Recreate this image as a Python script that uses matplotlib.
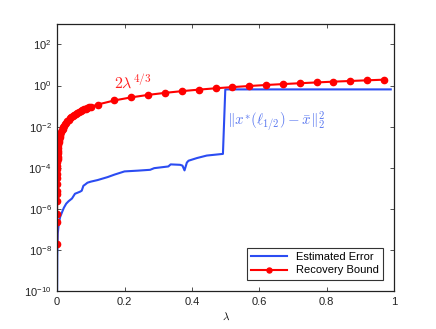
import math
import matplotlib
matplotlib.use('Agg')
import matplotlib.pyplot as plt
from matplotlib.ticker import FixedLocator, FuncFormatter, NullLocator

plt.rcParams['font.family'] = ['Liberation Sans', 'DejaVu Sans']
plt.rcParams['font.size'] = 8

# estimated error ||x*(l_1/2) - x_bar||^2
err_lam = [0, 0.0005, 0.002, 0.005, 0.009, 0.015, 0.02, 0.027, 0.034, 0.044,
           0.053, 0.06, 0.068, 0.073, 0.078, 0.083, 0.09, 0.1, 0.12, 0.15,
           0.17, 0.2, 0.24, 0.276, 0.288, 0.33, 0.337, 0.365, 0.372, 0.378,
           0.385, 0.39, 0.415, 0.444, 0.492, 0.499, 0.99]
err_val = [1e-10, 5.0e-9, 6.3e-8, 2.0e-7, 4.0e-7, 7.1e-7, 1.12e-6, 1.78e-6, 2.34e-6, 3.16e-6,
           5.4e-6, 6.0e-6, 6.8e-6, 7.6e-6, 1.32e-5, 1.51e-5, 1.86e-5, 2.1e-5, 2.5e-5, 3.5e-5,
           4.6e-5, 6.6e-5, 7.2e-5, 7.9e-5, 9.5e-5, 1.15e-4, 1.45e-4, 1.38e-4, 1.26e-4, 7.4e-5,
           1.78e-4, 2.19e-4, 2.95e-4, 3.9e-4, 4.7e-4, 0.646, 0.646]

# recovery bound 2*lambda^(4/3)
bnd_lam = [9.6e-7, 6.3e-6, 1.2e-5, 3.6e-5, 6.3e-5, 8.5e-5, 1.5e-4, 2.6e-4, 3.4e-4, 5.3e-4,
           6.8e-4, 9.3e-4, 0.0012, 0.0015, 0.002, 0.0025, 0.003, 0.004, 0.005, 0.006,
           0.007, 0.008, 0.009, 0.01, 0.012, 0.014, 0.016, 0.018, 0.02, 0.023,
           0.026, 0.03, 0.034, 0.038, 0.042, 0.046, 0.05, 0.055, 0.06, 0.065,
           0.07, 0.075, 0.08, 0.085, 0.09, 0.095, 0.1,
           0.12, 0.17, 0.22, 0.27, 0.32, 0.37, 0.42, 0.47, 0.52, 0.57,
           0.62, 0.67, 0.72, 0.77, 0.82, 0.87, 0.92, 0.97]
bnd_val = [1.9e-8, 2.3e-7, 5.4e-7, 2.4e-6, 5.1e-6, 7.4e-6, 1.6e-5, 3.3e-5, 4.8e-5, 8.5e-5,
           1.2e-4, 1.8e-4, 2.6e-4, 3.4e-4, 5.0e-4, 6.8e-4, 8.7e-4, 1.27e-3, 1.71e-3, 2.18e-3,
           2.68e-3, 3.20e-3, 3.75e-3, 4.31e-3, 5.49e-3, 6.75e-3, 8.07e-3, 9.44e-3, 1.09e-2, 1.31e-2,
           1.54e-2, 1.86e-2, 2.20e-2, 2.56e-2, 2.92e-2, 3.30e-2, 3.68e-2, 4.19e-2, 4.70e-2, 5.23e-2,
           5.77e-2, 6.32e-2, 6.90e-2, 7.48e-2, 8.07e-2, 8.67e-2, 9.28e-2,
           0.118, 0.188, 0.265, 0.349, 0.438, 0.531, 0.629, 0.731, 0.836, 0.946,
           1.057, 1.172, 1.290, 1.41, 1.54, 1.66, 1.79, 1.92]

x_ticks = [0, 0.2, 0.4, 0.6, 0.8, 1]
x_labels = ['0', '0.2', '0.4', '0.6', '0.8', '1']
y_exps = [-10, -8, -6, -4, -2, 0, 2]

fig = plt.figure(figsize=(4.36, 3.29), dpi=100)
ax = fig.add_axes([0.131, 0.1155, 0.773, 0.812])

ax.semilogy(err_lam, err_val, color='#2b4cf2', lw=1.5, label='Estimated Error')
ax.semilogy(bnd_lam, bnd_val, color='#ff0000', lw=1.5, marker='o', ms=4.5,
            label='Recovery Bound')

ax.set_xlim(0, 1)
ax.set_ylim(1e-10, 1e3)
ax.xaxis.set_major_locator(FixedLocator(x_ticks))
ax.set_xticklabels(x_labels)
ax.yaxis.set_major_locator(FixedLocator([10.0 ** e for e in y_exps]))
ax.yaxis.set_minor_locator(NullLocator())
ax.yaxis.set_major_formatter(FuncFormatter(
    lambda v, pos: r'$\mathregular{10^{%d}}$' % round(math.log10(v))))
ax.tick_params(direction='in', top=True, right=True, length=3, width=0.6,
               colors='#333333', labelcolor='#222222', pad=4)
for s in ax.spines.values():
    s.set_linewidth(0.9)
    s.set_color('#222222')

ax.text(0.17, 0.72, r'$2\lambda^{4/3}$', color='#ff2020', fontsize=11.5,
        math_fontfamily='cm')
ax.text(0.505, 0.019, r'$\|x^{*}(\ell_{1/2})-\bar{x}\|_2^2$', color='#5a78f0',
        fontsize=10.8, math_fontfamily='cm', va='center')
ax.set_xlabel(r'$\lambda$', math_fontfamily='cm', fontsize=8, labelpad=3)

leg = ax.legend(loc='lower right', fontsize=8, fancybox=False, framealpha=1,
                edgecolor='#333333', handlelength=3.2, borderpad=0.4,
                labelspacing=0.3, borderaxespad=1.0, markerscale=0.8)
leg.get_frame().set_linewidth(0.8)

fig.savefig('out.png', dpi=100)
